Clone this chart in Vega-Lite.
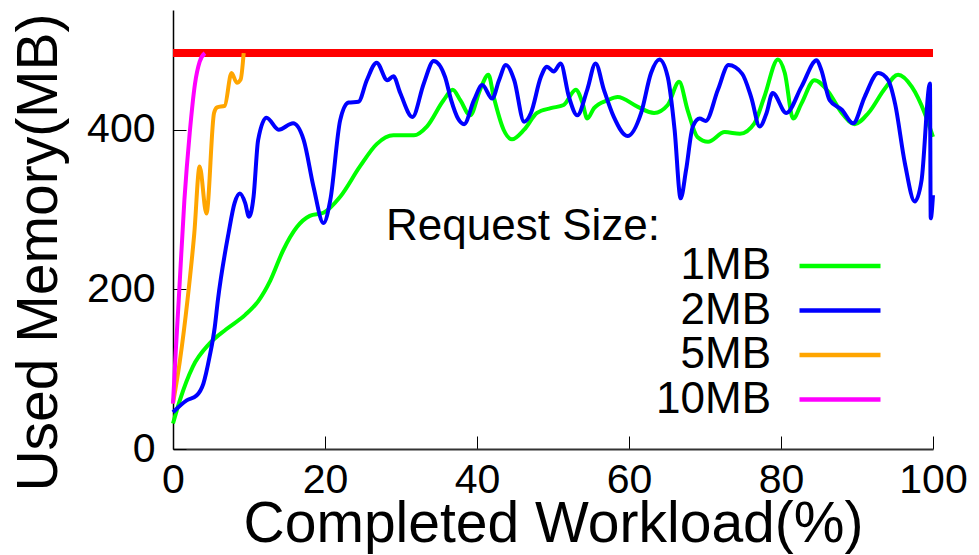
{
  "$schema": "https://vega.github.io/schema/vega-lite/v6.json",
  "width": 760,
  "height": 439,
  "autosize": {"type": "none"},
  "padding": {"left": 173, "top": 10, "right": 46, "bottom": 106},
  "background": "white",
  "config": {
    "view": {"stroke": null},
    "font": "Liberation Sans"
  },
  "datasets": {
    "cap": [{"limit": 496}],
    "usage": [
      {"series": "1MB", "x": 0, "mem": 32},
      {"series": "1MB", "x": 0.9, "mem": 61},
      {"series": "1MB", "x": 2.6, "mem": 103},
      {"series": "1MB", "x": 4.8, "mem": 132},
      {"series": "1MB", "x": 7, "mem": 150},
      {"series": "1MB", "x": 9.5, "mem": 168},
      {"series": "1MB", "x": 11.2, "mem": 185},
      {"series": "1MB", "x": 12.8, "mem": 211},
      {"series": "1MB", "x": 14.5, "mem": 249},
      {"series": "1MB", "x": 16.3, "mem": 278},
      {"series": "1MB", "x": 18, "mem": 292},
      {"series": "1MB", "x": 19.8, "mem": 296},
      {"series": "1MB", "x": 22, "mem": 316},
      {"series": "1MB", "x": 24.6, "mem": 354},
      {"series": "1MB", "x": 26.8, "mem": 382},
      {"series": "1MB", "x": 29, "mem": 393},
      {"series": "1MB", "x": 31.7, "mem": 393},
      {"series": "1MB", "x": 33.4, "mem": 404},
      {"series": "1MB", "x": 35.6, "mem": 437},
      {"series": "1MB", "x": 36.8, "mem": 450},
      {"series": "1MB", "x": 37.8, "mem": 437},
      {"series": "1MB", "x": 39.1, "mem": 418},
      {"series": "1MB", "x": 40.4, "mem": 450},
      {"series": "1MB", "x": 41.5, "mem": 469},
      {"series": "1MB", "x": 42.2, "mem": 441},
      {"series": "1MB", "x": 43.5, "mem": 400},
      {"series": "1MB", "x": 44.6, "mem": 388},
      {"series": "1MB", "x": 46.2, "mem": 400},
      {"series": "1MB", "x": 47.9, "mem": 421},
      {"series": "1MB", "x": 49.7, "mem": 427},
      {"series": "1MB", "x": 51.4, "mem": 431},
      {"series": "1MB", "x": 53, "mem": 450},
      {"series": "1MB", "x": 53.9, "mem": 433},
      {"series": "1MB", "x": 54.5, "mem": 414},
      {"series": "1MB", "x": 55.4, "mem": 427},
      {"series": "1MB", "x": 57.2, "mem": 437},
      {"series": "1MB", "x": 58.5, "mem": 441},
      {"series": "1MB", "x": 61.1, "mem": 429},
      {"series": "1MB", "x": 63.3, "mem": 421},
      {"series": "1MB", "x": 65.1, "mem": 431},
      {"series": "1MB", "x": 66.6, "mem": 460},
      {"series": "1MB", "x": 67.7, "mem": 425},
      {"series": "1MB", "x": 69, "mem": 391},
      {"series": "1MB", "x": 70.4, "mem": 385},
      {"series": "1MB", "x": 72.6, "mem": 397},
      {"series": "1MB", "x": 74.6, "mem": 395},
      {"series": "1MB", "x": 76.5, "mem": 408},
      {"series": "1MB", "x": 77.8, "mem": 441},
      {"series": "1MB", "x": 79.6, "mem": 488},
      {"series": "1MB", "x": 80.5, "mem": 471},
      {"series": "1MB", "x": 81.6, "mem": 414},
      {"series": "1MB", "x": 82.7, "mem": 433},
      {"series": "1MB", "x": 84.4, "mem": 462},
      {"series": "1MB", "x": 86.2, "mem": 448},
      {"series": "1MB", "x": 88, "mem": 421},
      {"series": "1MB", "x": 89.7, "mem": 407},
      {"series": "1MB", "x": 91.5, "mem": 421},
      {"series": "1MB", "x": 93.7, "mem": 452},
      {"series": "1MB", "x": 95.4, "mem": 469},
      {"series": "1MB", "x": 97.2, "mem": 454},
      {"series": "1MB", "x": 98.9, "mem": 421},
      {"series": "1MB", "x": 100, "mem": 391},

      {"series": "2MB", "x": 0, "mem": 46},
      {"series": "2MB", "x": 1.8, "mem": 61},
      {"series": "2MB", "x": 3.1, "mem": 67},
      {"series": "2MB", "x": 4, "mem": 82},
      {"series": "2MB", "x": 4.8, "mem": 115},
      {"series": "2MB", "x": 5.5, "mem": 153},
      {"series": "2MB", "x": 5.9, "mem": 186},
      {"series": "2MB", "x": 7.3, "mem": 270},
      {"series": "2MB", "x": 8.1, "mem": 308},
      {"series": "2MB", "x": 8.8, "mem": 320},
      {"series": "2MB", "x": 9.5, "mem": 308},
      {"series": "2MB", "x": 10, "mem": 291},
      {"series": "2MB", "x": 10.6, "mem": 316},
      {"series": "2MB", "x": 11.2, "mem": 387},
      {"series": "2MB", "x": 12.3, "mem": 415},
      {"series": "2MB", "x": 13.9, "mem": 400},
      {"series": "2MB", "x": 15.8, "mem": 408},
      {"series": "2MB", "x": 17.2, "mem": 387},
      {"series": "2MB", "x": 18.5, "mem": 328},
      {"series": "2MB", "x": 19.8, "mem": 283},
      {"series": "2MB", "x": 20.7, "mem": 312},
      {"series": "2MB", "x": 22, "mem": 412},
      {"series": "2MB", "x": 23.1, "mem": 434},
      {"series": "2MB", "x": 24.4, "mem": 435},
      {"series": "2MB", "x": 25.5, "mem": 462},
      {"series": "2MB", "x": 26.8, "mem": 484},
      {"series": "2MB", "x": 28.2, "mem": 462},
      {"series": "2MB", "x": 29, "mem": 467},
      {"series": "2MB", "x": 29.9, "mem": 446},
      {"series": "2MB", "x": 31.5, "mem": 416},
      {"series": "2MB", "x": 33, "mem": 458},
      {"series": "2MB", "x": 34.3, "mem": 486},
      {"series": "2MB", "x": 35.8, "mem": 466},
      {"series": "2MB", "x": 36.6, "mem": 437},
      {"series": "2MB", "x": 37.5, "mem": 414},
      {"series": "2MB", "x": 38.3, "mem": 407},
      {"series": "2MB", "x": 39.6, "mem": 437},
      {"series": "2MB", "x": 40.7, "mem": 456},
      {"series": "2MB", "x": 42, "mem": 439},
      {"series": "2MB", "x": 42.9, "mem": 462},
      {"series": "2MB", "x": 43.8, "mem": 481},
      {"series": "2MB", "x": 44.9, "mem": 462},
      {"series": "2MB", "x": 46.2, "mem": 410},
      {"series": "2MB", "x": 47.1, "mem": 421},
      {"series": "2MB", "x": 48.4, "mem": 466},
      {"series": "2MB", "x": 49.2, "mem": 479},
      {"series": "2MB", "x": 50.1, "mem": 473},
      {"series": "2MB", "x": 51, "mem": 483},
      {"series": "2MB", "x": 52.1, "mem": 441},
      {"series": "2MB", "x": 53.2, "mem": 418},
      {"series": "2MB", "x": 54.5, "mem": 450},
      {"series": "2MB", "x": 55.6, "mem": 483},
      {"series": "2MB", "x": 56.7, "mem": 450},
      {"series": "2MB", "x": 58, "mem": 416},
      {"series": "2MB", "x": 59.8, "mem": 392},
      {"series": "2MB", "x": 61.6, "mem": 421},
      {"series": "2MB", "x": 62.9, "mem": 471},
      {"series": "2MB", "x": 64, "mem": 488},
      {"series": "2MB", "x": 65.1, "mem": 466},
      {"series": "2MB", "x": 66, "mem": 400},
      {"series": "2MB", "x": 66.8, "mem": 314},
      {"series": "2MB", "x": 67.5, "mem": 349},
      {"series": "2MB", "x": 68.4, "mem": 404},
      {"series": "2MB", "x": 69.3, "mem": 414},
      {"series": "2MB", "x": 70.1, "mem": 411},
      {"series": "2MB", "x": 71.7, "mem": 450},
      {"series": "2MB", "x": 73.1, "mem": 481},
      {"series": "2MB", "x": 74.9, "mem": 470},
      {"series": "2MB", "x": 76.1, "mem": 440},
      {"series": "2MB", "x": 77.2, "mem": 404},
      {"series": "2MB", "x": 78.1, "mem": 421},
      {"series": "2MB", "x": 78.9, "mem": 446},
      {"series": "2MB", "x": 80.7, "mem": 421},
      {"series": "2MB", "x": 82.7, "mem": 454},
      {"series": "2MB", "x": 84.7, "mem": 487},
      {"series": "2MB", "x": 85.3, "mem": 475},
      {"series": "2MB", "x": 86.4, "mem": 437},
      {"series": "2MB", "x": 88, "mem": 425},
      {"series": "2MB", "x": 89.5, "mem": 408},
      {"series": "2MB", "x": 91, "mem": 441},
      {"series": "2MB", "x": 92.8, "mem": 471},
      {"series": "2MB", "x": 94.1, "mem": 462},
      {"series": "2MB", "x": 95, "mem": 433},
      {"series": "2MB", "x": 96.3, "mem": 358},
      {"series": "2MB", "x": 97.6, "mem": 310},
      {"series": "2MB", "x": 98.5, "mem": 337},
      {"series": "2MB", "x": 99.6, "mem": 458},
      {"series": "2MB", "x": 99.7, "mem": 289},
      {"series": "2MB", "x": 100, "mem": 318},

      {"series": "5MB", "x": 0, "mem": 57},
      {"series": "5MB", "x": 0.9, "mem": 110},
      {"series": "5MB", "x": 1.9, "mem": 186},
      {"series": "5MB", "x": 2.8, "mem": 270},
      {"series": "5MB", "x": 3.5, "mem": 354},
      {"series": "5MB", "x": 4.4, "mem": 295},
      {"series": "5MB", "x": 5.4, "mem": 421},
      {"series": "5MB", "x": 5.8, "mem": 428},
      {"series": "5MB", "x": 6.8, "mem": 430},
      {"series": "5MB", "x": 7.7, "mem": 471},
      {"series": "5MB", "x": 8.4, "mem": 459},
      {"series": "5MB", "x": 8.9, "mem": 463},
      {"series": "5MB", "x": 9.3, "mem": 496},

      {"series": "10MB", "x": 0, "mem": 57},
      {"series": "10MB", "x": 0.35, "mem": 120},
      {"series": "10MB", "x": 0.75, "mem": 186},
      {"series": "10MB", "x": 1.5, "mem": 312},
      {"series": "10MB", "x": 2.2, "mem": 396},
      {"series": "10MB", "x": 2.9, "mem": 458},
      {"series": "10MB", "x": 3.5, "mem": 485},
      {"series": "10MB", "x": 4.2, "mem": 496}
    ]
  },
  "layer": [
    {
      "data": {"name": "cap"},
      "mark": {"type": "rule", "color": "#ff0000", "strokeWidth": 8},
      "encoding": {
        "y": {"field": "limit", "type": "quantitative", "scale": {"domain": [0, 550], "nice": false}}
      }
    },
    {
      "data": {"name": "usage"},
      "mark": {"type": "line", "interpolate": "monotone", "strokeWidth": 4},
      "encoding": {
        "x": {
          "field": "x",
          "type": "quantitative",
          "scale": {"domain": [0, 100], "nice": false},
          "axis": {
            "values": [0, 20, 40, 60, 80, 100],
            "title": "Completed Workload(%)",
            "grid": false,
            "tickSize": -13,
            "tickColor": "#000000",
            "tickWidth": 1,
            "domainColor": "#333333",
            "domainWidth": 2,
            "labelFontSize": 41,
            "labelColor": "#000000",
            "labelPadding": 24,
            "labelFlush": false,
            "labelOverlap": false,
            "titleFontSize": 57,
            "titleFontWeight": "normal",
            "titleColor": "#000000",
            "titlePadding": -4
          }
        },
        "y": {
          "field": "mem",
          "type": "quantitative",
          "scale": {"domain": [0, 550], "nice": false},
          "axis": {
            "values": [0, 200, 400],
            "title": "Used Memory(MB)",
            "grid": false,
            "tickSize": -13,
            "tickColor": "#000000",
            "tickWidth": 1,
            "domainColor": "#000000",
            "domainWidth": 1.5,
            "labelFontSize": 41,
            "labelColor": "#000000",
            "labelPadding": 31,
            "labelFlush": false,
            "labelOverlap": false,
            "titleFontSize": 57,
            "titleFontWeight": "normal",
            "titleColor": "#000000",
            "titlePadding": 18,
            "titleY": 242,
            "titleLimit": 1000
          }
        },
        "color": {
          "field": "series",
          "type": "nominal",
          "scale": {
            "domain": ["1MB", "2MB", "5MB", "10MB"],
            "range": ["#00ff00", "#0000ff", "#ffa500", "#ff00ff"]
          },
          "legend": {
            "orient": "none",
            "legendX": 213,
            "legendY": 195,
            "title": "Request Size:",
            "titleFontSize": 44,
            "titleFontWeight": "normal",
            "titleColor": "#000000",
            "titleAnchor": "start",
            "titleAlign": "right",
            "titleLimit": 1000,
            "titlePadding": -5,
            "labelFontSize": 44,
            "labelColor": "#000000",
            "labelAlign": "right",
            "labelOffset": -91,
            "labelLimit": 0,
            "symbolType": "M-4,0H4",
            "symbolSize": 410,
            "symbolOffset": 158,
            "symbolStrokeWidth": 4.5,
            "rowPadding": 0.5
          }
        }
      }
    }
  ]
}
